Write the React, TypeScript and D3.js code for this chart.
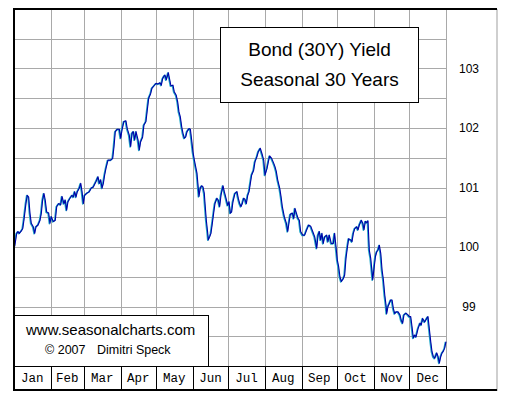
import React from "react";
import * as d3 from "d3";

// Day-of-year (0 = Jan 1) and seasonal index values
const dayOfYear: number[] = [
  0.6, 2.3, 3.4, 4.5, 6.2, 7.4, 8.4, 10.1, 11.2, 12.4,
  13.5, 14.6, 16.3, 17.5, 18.6, 20.3, 22.0, 23.1, 24.2, 25.3,
  26.4, 27.6, 29.3, 30.4, 31.5, 33.2, 34.9, 36.1, 37.8, 39.5,
  40.6, 42.2, 43.3, 44.5, 45.6, 47.3, 49.0, 50.1, 51.3, 52.4,
  53.5, 55.2, 56.4, 57.5, 58.6, 59.7, 61.9, 63.6, 65.3, 67.0,
  69.3, 71.0, 72.1, 73.3, 74.4, 75.5, 76.6, 77.7, 79.4, 81.7,
  83.4, 84.5, 85.6, 87.3, 89.0, 90.2, 91.3, 92.9, 94.6, 95.7,
  97.4, 98.6, 99.7, 100.8, 102.0, 103.1, 104.8, 105.9, 107.0, 108.7,
  109.8, 111.5, 112.6, 113.8, 115.5, 116.6, 118.3, 120.0, 121.7, 123.4,
  124.5, 125.6, 126.7,
  127.6, 128.7, 130.4, 131.6, 132.6, 134.3, 135.4, 137.1, 138.3, 139.4,
  140.5, 141.7, 142.8, 143.9, 145.1, 146.2, 147.9, 149.0, 150.1, 151.2,
  152.4, 153.5, 154.6, 155.7, 156.3, 157.4, 158.6, 159.7, 160.8, 161.4,
  162.5, 163.7, 164.2, 165.3, 166.4, 167.6, 168.7, 169.8, 171.5, 172.6,
  173.8, 174.9, 176.6, 177.7, 178.9, 180.6, 181.7, 182.8, 183.9, 185.0,
  186.7, 188.4, 189.5, 190.7, 191.8, 192.9, 194.1, 195.2, 196.3, 197.5,
  198.6, 199.7, 200.8, 202.5, 203.6, 205.3, 206.4, 208.1, 209.8, 211.0,
  212.1, 213.8, 214.9, 216.0, 217.7, 219.4, 220.5, 221.6, 222.8, 224.5,
  225.6, 226.7, 228.4, 230.1, 231.3, 232.3, 233.5, 235.2, 236.4, 237.4,
  238.3, 240.0, 241.1, 242.2, 243.9, 245.6, 247.3, 249.0, 250.7, 252.4,
  254.1, 255.8, 256.9, 258.0, 259.1, 260.2, 261.3, 262.5, 264.2, 265.3,
  266.4, 268.1, 269.8, 270.9, 272.1, 273.2, 274.3, 275.4, 276.6, 278.3,
  279.4, 280.5, 281.6, 282.8, 284.5, 285.6, 286.7, 287.9, 289.6, 290.7,
  291.8, 293.5, 294.7, 295.7, 296.9, 298.0, 299.1, 300.2, 301.4, 302.5,
  303.1, 304.2, 305.4, 306.5, 307.6, 308.7, 309.9, 311.0, 312.1, 313.3,
  314.3, 314.9, 316.0, 317.1, 318.3, 319.4, 320.5, 321.7, 322.8, 324.5,
  326.1, 327.2, 328.4, 329.5, 331.2, 332.9, 334.0, 335.2, 336.3, 337.4,
  338.6, 339.7, 341.4, 343.1, 344.1, 345.3, 347.0, 348.7, 349.8, 350.9,
  352.1, 353.2, 354.3, 355.5, 356.6, 357.2, 358.3, 359.4, 360.6, 361.7,
  362.8, 363.9, 365.0,
];

const bondValues: number[] = [
  100.01, 100.23, 100.26, 100.23, 100.27, 100.31, 100.45, 100.73, 100.87, 100.84,
  100.57, 100.40, 100.34, 100.23, 100.34, 100.37, 100.45, 100.57, 100.79, 100.90,
  100.79, 100.59, 100.57, 100.40, 100.51, 100.43, 100.45, 100.68, 100.73, 100.71,
  100.85, 100.73, 100.79, 100.62, 100.76, 100.82, 100.87, 100.84, 100.93, 100.84,
  100.93, 100.99, 101.07, 100.93, 100.73, 100.87, 100.91, 100.93, 100.99, 101.01,
  101.10, 101.18, 101.07, 101.13, 100.99, 101.07, 101.21, 101.32, 101.46, 101.46,
  101.49, 101.69, 101.94, 101.98, 101.98, 101.83, 101.97, 102.11, 102.12, 101.99,
  101.88, 101.69, 101.91, 101.94, 101.80, 101.94, 101.80, 101.63, 101.77, 101.85,
  102.05, 102.11, 102.30, 102.50, 102.58, 102.67, 102.71, 102.75, 102.74, 102.76,
  102.72, 102.83, 102.87,
  102.89, 102.81, 102.93, 102.81, 102.71, 102.72, 102.61, 102.55, 102.44, 102.27,
  102.19, 102.02, 101.91, 101.83, 101.85, 101.94, 101.99, 101.98, 101.80, 101.60,
  101.46, 101.35, 101.24, 100.99, 100.85, 100.99, 101.03, 101.01, 100.90, 100.73,
  100.45, 100.23, 100.12, 100.17, 100.23, 100.40, 100.57, 100.73, 100.82, 100.79,
  100.68, 100.87, 101.03, 100.93, 100.84, 100.70, 100.76, 100.57, 100.59, 100.76,
  100.90, 100.93, 100.82, 100.73, 100.68, 100.73, 100.82, 100.80, 100.73, 100.87,
  100.93, 101.07, 101.21, 101.29, 101.43, 101.52, 101.60, 101.66, 101.55, 101.46,
  101.21, 101.32, 101.43, 101.53, 101.49, 101.41, 101.35, 101.27, 101.13, 100.99,
  100.85, 100.68, 100.51, 100.40, 100.26, 100.40, 100.55, 100.57, 100.48, 100.65,
  100.59, 100.48, 100.45, 100.26, 100.20, 100.20, 100.29, 100.37, 100.35, 100.26,
  100.17, 99.98, 100.20, 100.26, 100.12, 100.23, 100.06, 100.17, 100.20, 100.09,
  100.20, 100.06, 100.06, 100.23, 100.00, 99.78, 99.67, 99.50, 99.42, 99.47,
  99.53, 99.81, 99.98, 100.14, 100.12, 100.09, 100.23, 100.31, 100.34, 100.29,
  100.37, 100.45, 100.40, 100.29, 100.43, 100.41, 100.44, 99.95, 99.81, 99.58,
  99.45, 99.64, 99.84, 99.92, 99.95, 100.03, 99.89, 99.61, 99.45, 99.19,
  99.03, 98.88, 99.00, 99.05, 99.11, 99.11, 98.97, 98.88, 98.91, 98.91,
  98.86, 98.77, 98.72, 98.86, 98.89, 98.86, 98.83, 98.83, 98.66, 98.47,
  98.52, 98.49, 98.63, 98.72, 98.69, 98.80, 98.74, 98.80, 98.83, 98.63,
  98.41, 98.24, 98.16, 98.13, 98.19, 98.22, 98.16, 98.05, 98.16, 98.22,
  98.25, 98.30, 98.41,
];

const monthLabels: string[] = ["Jan", "Feb", "Mar", "Apr", "May", "Jun", "Jul", "Aug", "Sep", "Oct", "Nov", "Dec"];
const monthStarts: number[] = [0, 31, 59, 90, 120, 151, 181, 212, 243, 273, 304, 334, 365];
const yTickLabels: number[] = [99, 100, 101, 102, 103];
const yDomain: [number, number] = [98, 104];
const titleLines: string[] = ["Bond (30Y) Yield", "Seasonal 30 Years"];

export default function App() {
  const left = 14, right = 446, top = 9, bottom = 366, axisBottom = 390, panelRight = 497;
  const x = d3.scaleLinear().domain([0, 365]).range([left, right]);
  const y = d3.scaleLinear().domain(yDomain).range([bottom, top]);
  const gridYs = d3.range(yDomain[0] + 0.5, yDomain[1], 0.5);
  const pts: [number, number][] = dayOfYear.map((d, i) => [d, bondValues[i]]);
  const line = d3.line<[number, number]>().x((p) => x(p[0])).y((p) => y(p[1]));
  const path = line(pts) || "";
  const px = (v: number) => Math.round(v) + 0.5;
  const gridColor = "#a9a9a9";
  const sans = "'Liberation Sans', Arial, sans-serif";

  return (
    <svg width={509} height={401} style={{ position: "absolute", left: 0, top: 0, background: "#fff" }}>
      <rect x={0} y={0} width={509} height={401} fill="#fff" />
      <g shapeRendering="crispEdges" stroke={gridColor} strokeWidth={1}>
        {monthStarts.slice(1).map((m, i) => (
          <line key={"v" + i} x1={px(x(m))} x2={px(x(m))} y1={top} y2={bottom} />
        ))}
        {gridYs.map((g, i) => (
          <line key={"h" + i} x1={left} x2={right} y1={px(y(g))} y2={px(y(g))} />
        ))}
      </g>
      <path d={path} fill="none" stroke="#22a8c8" strokeWidth={1.6} strokeLinejoin="round" transform="translate(-0.6,0.4)" />
      <path d={path} fill="none" stroke="#0000a8" strokeWidth={1.1} strokeLinejoin="round" />

      {/* Title box */}
      <rect x={220.5} y={27.5} width={198} height={75} fill="#fff" stroke="#000" strokeWidth={1} shapeRendering="crispEdges" />
      {titleLines.map((t, i) => (
        <text key={t} x={319.5} y={56 + i * 29.5} textAnchor="middle" fontFamily={sans} fontSize={19} fill="#000">
          {t}
        </text>
      ))}

      {/* Credit box */}
      <rect x={14.5} y={315.5} width={194} height={51} fill="#fff" stroke="#000" strokeWidth={1} shapeRendering="crispEdges" />
      <text x={26} y={335} fontFamily={sans} fontSize={15} fill="#000">www.seasonalcharts.com</text>
      <text x={45} y={354} fontFamily={sans} fontSize={12.5} fill="#000">© 2007</text>
      <text x={97} y={354} fontFamily={sans} fontSize={12.5} fill="#000">Dimitri Speck</text>

      {/* Y labels */}
      {yTickLabels.map((t) => (
        <text key={t} x={469} y={y(t)} dy="0.36em" textAnchor="middle" fontFamily={sans} fontSize={12} fill="#000">
          {t}
        </text>
      ))}

      {/* Month axis band */}
      <g shapeRendering="crispEdges" stroke="#000" strokeWidth={1}>
        <line x1={left} x2={right + 1} y1={bottom + 0.5} y2={bottom + 0.5} />
        {monthStarts.slice(1).map((m, i) => (
          <line key={"mc" + i} x1={px(x(m))} x2={px(x(m))} y1={bottom} y2={axisBottom} />
        ))}
      </g>
      {monthLabels.map((mName, i) => (
        <text
          key={mName}
          x={(x(monthStarts[i]) + x(monthStarts[i + 1])) / 2}
          y={382}
          textAnchor="middle"
          fontFamily="'Liberation Mono', 'DejaVu Sans Mono', monospace"
          fontSize={12.5}
          fill="#000"
        >
          {mName}
        </text>
      ))}

      {/* Frame */}
      <g shapeRendering="crispEdges">
        <line x1={panelRight} x2={panelRight} y1={top} y2={axisBottom + 1} stroke="#cfcfcf" strokeWidth={2} />
        <line x1={left} x2={panelRight} y1={top} y2={top} stroke="#000" strokeWidth={2} />
        <line x1={left} x2={panelRight} y1={axisBottom} y2={axisBottom} stroke="#000" strokeWidth={2} />
        <line x1={left} x2={left} y1={top - 1} y2={axisBottom + 1} stroke="#000" strokeWidth={2} />
      </g>
    </svg>
  );
}
